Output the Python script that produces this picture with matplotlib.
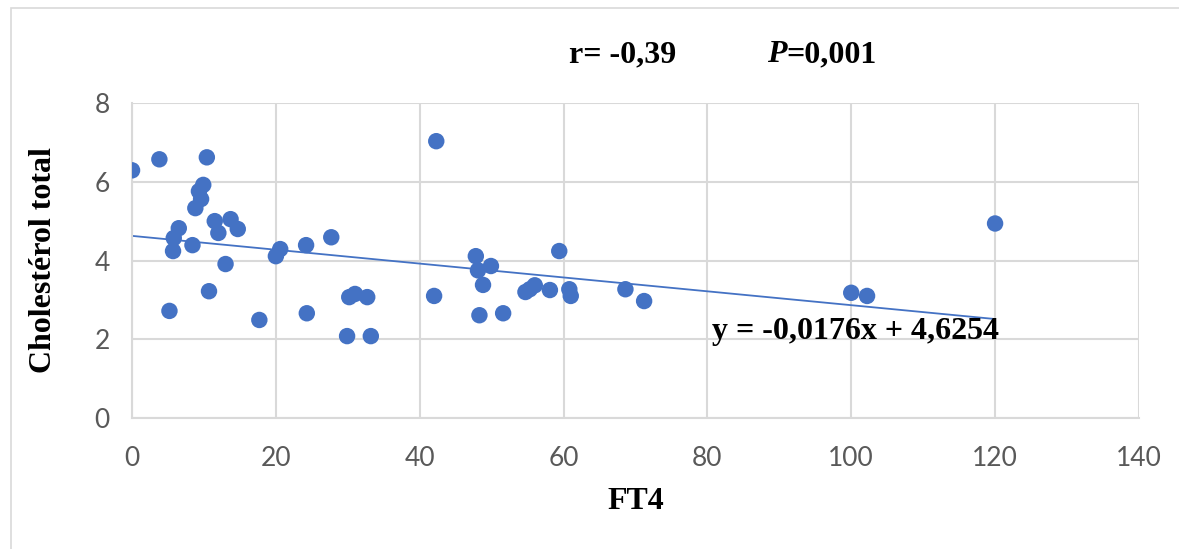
import matplotlib.pyplot as plt
from matplotlib.patches import Rectangle

# FT4 vs total cholesterol
ft4 = [0, 3.8, 10.4, 9.9, 9.3, 9.6, 8.8, 6.5, 5.8, 5.7, 8.4, 11.5, 13.7, 12.0,
       14.7, 13.0, 10.7, 5.2, 17.7, 20.6, 20.0, 42.3, 27.7, 24.2, 47.8, 48.1,
       49.9, 48.8, 42.0, 48.3, 24.3, 30.2, 31.0, 32.7, 29.9, 33.2, 51.6, 59.4,
       54.7, 55.3, 56.0, 58.1, 60.8, 61.0, 68.6, 71.2, 100.0, 102.2, 120.0]
chol = [6.29, 6.57, 6.62, 5.92, 5.76, 5.56, 5.33, 4.82, 4.57, 4.24, 4.39, 5.0,
        5.05, 4.70, 4.80, 3.91, 3.22, 2.72, 2.49, 4.29, 4.11, 7.03, 4.59, 4.39,
        4.11, 3.75, 3.86, 3.38, 3.10, 2.61, 2.66, 3.07, 3.15, 3.07, 2.08, 2.08,
        2.66, 4.24, 3.20, 3.27, 3.37, 3.25, 3.27, 3.10, 3.27, 2.97, 3.18, 3.10,
        4.94]

slope = -0.0176
intercept = 4.6254
fit_x = [0, 120]

blue = '#4472C4'
grid = '#D9D9D9'
tick_col = '#595959'

fig = plt.figure(figsize=(11.79, 5.49), dpi=100)
ax = fig.add_axes([0.112, 0.2386, 0.854, 0.5738])

# outer chart border
fig.patches.append(Rectangle((0.009, -0.05), 1.1, 1.035, transform=fig.transFigure,
                             fill=False, edgecolor='#D9D9D9', linewidth=1.2))

ax.plot(fit_x, [slope * v + intercept for v in fit_x], color=blue, linewidth=1.3, zorder=2)
ax.scatter(ft4, chol, s=140, color=blue, edgecolors='none', zorder=3)

ax.set_xlim(0, 140)
ax.set_ylim(0, 8)
ax.set_xticks(range(0, 141, 20))
ax.set_yticks(range(0, 9, 2))
ax.grid(True, color=grid, linewidth=1.5, zorder=0)
ax.set_axisbelow(True)
for s in ['top', 'right']:
    ax.spines[s].set_visible(False)
ax.spines['left'].set_color(grid)
ax.spines['bottom'].set_color(grid)
ax.spines['left'].set_linewidth(1.5)
ax.spines['bottom'].set_linewidth(1.5)
ax.tick_params(length=0, labelsize=19, labelcolor=tick_col)
ax.tick_params(axis='x', pad=20)
ax.tick_params(axis='y', pad=16)
for lab in ax.get_xticklabels() + ax.get_yticklabels():
    lab.set_family('Lato')

serif = 'Liberation Serif'
ax.set_xlabel('FT4', fontsize=23, fontweight='bold', family=serif, labelpad=12)
ax.set_ylabel('Cholestérol total', fontsize=23, fontweight='bold', family=serif, labelpad=26)

fig.text(0.528, 0.9, 'r= -0,39', fontsize=23, fontweight='bold', family=serif,
         ha='center', va='center')
fig.text(0.667, 0.9, 'P', fontsize=23, fontweight='bold', fontstyle='italic', family=serif,
         ha='right', va='center')
fig.text(0.667, 0.9, '=0,001', fontsize=23, fontweight='bold', family=serif,
         ha='left', va='center')

ax.text(80.6, 2.2, 'y = -0,0176x + 4,6254', fontsize=23, fontweight='bold', family=serif,
        ha='left', va='center')

fig.savefig('out.png', dpi=100)
